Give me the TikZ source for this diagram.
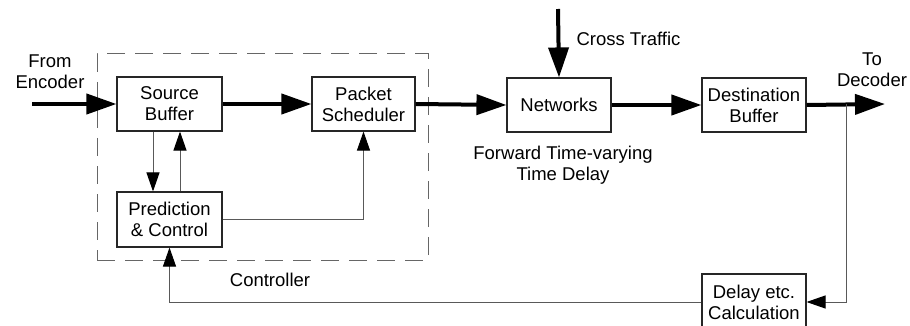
\documentclass[tikz,border=0pt]{standalone}
\usepackage{fontspec}
\setmainfont{Liberation Sans}
\usetikzlibrary{arrows.meta}
\begin{document}
\begin{tikzpicture}[x=1pt,y=-1pt,
  block/.style={draw=black!85,line width=1.1pt,fill=white,align=center,
    inner sep=0pt,font=\fontsize{18.5}{21}\selectfont},
  lbl/.style={align=center,font=\fontsize{18.5}{21}\selectfont},
  bigflow/.style={line width=4pt,-{Triangle[length=30pt,width=20pt]}},
  sigflow/.style={draw=black!65,line width=1pt,-{Triangle[length=19pt,width=13pt,color=black]}},
  sigline/.style={draw=black!65,line width=1pt}]
\useasboundingbox (0,0) rectangle (910,326);

% controller boundary
\node[draw=black!60,line width=1pt,dash pattern=on 18pt off 10pt,
  minimum width=331pt,minimum height=206pt,inner sep=0pt] (ctrl) at (262.5,157) {};
\node[lbl] (ctrllbl) at (270,280) {Controller};

% blocks
\node[block,minimum width=105pt,minimum height=54pt] (sb) at (169.5,104) {Source\\Buffer};
\node[block,minimum width=103pt,minimum height=54pt] (ps) at (363.5,104) {Packet\\Scheduler};
\node[block,minimum width=105pt,minimum height=55pt] (pc) at (169.5,219.5) {Prediction\\\& Control};
\node[block,minimum width=104pt,minimum height=54pt] (net) at (559,105) {Networks};
\node[block,minimum width=104pt,minimum height=54pt] (db) at (754,105) {Destination\\Buffer};
\node[block,minimum width=104pt,minimum height=56pt] (dc) at (754,302) {Delay etc.\\Calculation};

% free ends
\coordinate (src) at (32,104);
\coordinate (sink) at (885,104);
\coordinate (cross) at (558,9);
\coordinate (tap) at (846,104);

% labels
\node[lbl] (fromenc) at (50,72) {From\\Encoder};
\node[lbl] (todec) at (872,70) {To\\Decoder};
\node[lbl,anchor=west] (crosslbl) at (573,39) {Cross Traffic};
\node[lbl] (fwdlbl) at (563,165) {Forward Time-varying\\Time Delay};

% main data path
\draw[bigflow] (src) -- (sb.west);
\draw[bigflow] (sb.east) -- (ps.west);
\draw[bigflow] (ps.east) -- (net.west);
\draw[bigflow] (net.east) -- (db.west);
\draw[bigflow] (db.east) -- (sink);
\draw[bigflow] (cross) -- (net.north);

% control signals
\draw[sigflow] ([xshift=-16.5pt]sb.south) -- ([xshift=-16.5pt]pc.north);
\draw[sigflow] ([xshift=10.5pt]pc.north) -- ([xshift=10.5pt]sb.south);
\draw[sigflow] (pc.east) -| (ps.south);
\draw[sigflow] (tap) |- (dc.east);
\draw[sigflow] (dc.west) -| (pc.south);
\end{tikzpicture}
\end{document}
